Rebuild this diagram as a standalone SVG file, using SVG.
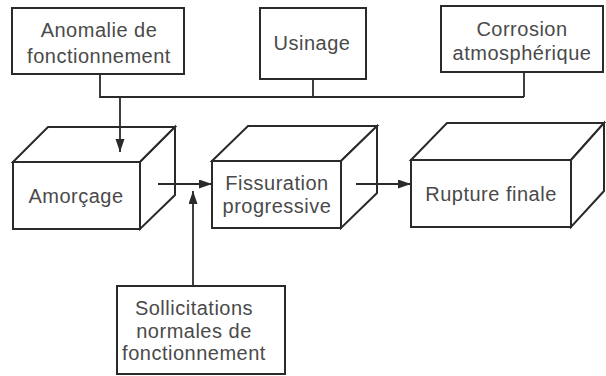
<svg xmlns="http://www.w3.org/2000/svg" width="606" height="376" viewBox="0 0 606 376">
<defs>
<marker id="arr" markerUnits="userSpaceOnUse" markerWidth="14" markerHeight="10" refX="13" refY="4.5" orient="auto">
<path d="M0,0 L13,4.5 L0,9 z" fill="#2a2a2a"/>
</marker>
<style>
.b{fill:#fff;stroke:#2a2a2a;stroke-width:2;stroke-linejoin:miter}
.t{font-family:"Liberation Sans",Arial,sans-serif;font-size:20px;letter-spacing:0.5px;fill:#4a4a4a;text-anchor:middle}
.c{fill:none;stroke:#2a2a2a;stroke-width:1.8}
</style>
</defs>
<rect width="606" height="376" fill="#fff"/>
<g id="anomalie">
<rect class="b" x="12" y="8" width="172" height="66"/>
<text class="t" x="99" y="37">Anomalie de</text>
<text class="t" x="99" y="63">fonctionnement</text>
</g>
<g id="usinage">
<rect class="b" x="260" y="8" width="106" height="71"/>
<text class="t" x="312" y="50">Usinage</text>
</g>
<g id="corrosion">
<rect class="b" x="441" y="6" width="162" height="66"/>
<text class="t" x="522" y="36">Corrosion</text>
<text class="t" x="522" y="60">atmosphérique</text>
</g>
<g id="amorcage">
<polygon class="b" points="13,162 48,127 175,127 140,162"/>
<polygon class="b" points="140,162 175,127 175,195 140,229"/>
<rect class="b" x="13" y="162" width="127" height="67"/>
<text class="t" x="76" y="203">Amorçage</text>
</g>
<g id="fissuration">
<polygon class="b" points="212,161 248,126 377,126 341,161"/>
<polygon class="b" points="341,161 377,126 377,193 341,228"/>
<rect class="b" x="212" y="161" width="129" height="67"/>
<text class="t" x="277" y="190">Fissuration</text>
<text class="t" x="277" y="213">progressive</text>
</g>
<g id="rupture">
<polygon class="b" points="411,160 447,123 604,123 571,160"/>
<polygon class="b" points="571,160 604,123 604,191 571,227"/>
<rect class="b" x="411" y="160" width="160" height="67"/>
<text class="t" x="491" y="201">Rupture finale</text>
</g>
<g id="sollicitations">
<rect class="b" x="117" y="286" width="168" height="88"/>
<text class="t" x="194" y="315">Sollicitations</text>
<text class="t" x="194" y="338">normales de</text>
<text class="t" x="194" y="360">fonctionnement</text>
</g>
<g id="connectors">
<path class="c" d="M100,74 V97 H524"/>
<path class="c" d="M313,79 V97"/>
<path class="c" d="M524,72 V97"/>
<path class="c" d="M120,97 V152" marker-end="url(#arr)"/>
<path class="c" d="M158,184 H212" marker-end="url(#arr)"/>
<path class="c" d="M193,286 V191" marker-end="url(#arr)"/>
<path class="c" d="M356,184 H411" marker-end="url(#arr)"/>
</g>
</svg>
